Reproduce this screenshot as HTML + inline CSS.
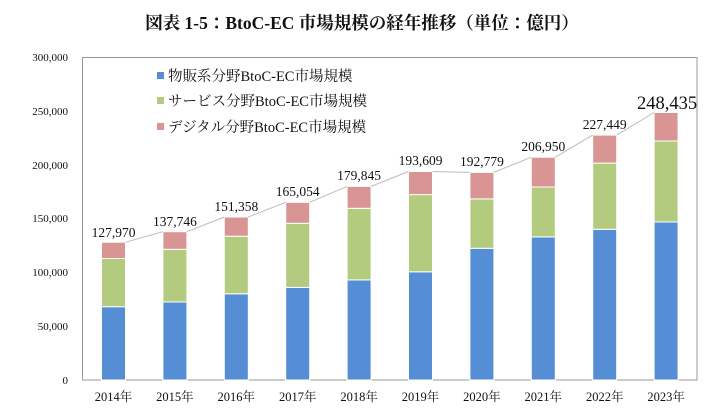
<!DOCTYPE html>
<html><head><meta charset="utf-8"><style>
html,body{margin:0;padding:0;background:#fff;}
svg{display:block;}
text{font-family:"Liberation Serif","Noto Serif CJK JP",serif;fill:#111;}
</style></head><body>
<svg width="725" height="416" viewBox="0 0 725 416" xmlns="http://www.w3.org/2000/svg">
<text x="362" y="29" text-anchor="middle" font-size="17.5" font-weight="bold">図表 1-5：BtoC-EC 市場規模の経年推移（単位：億円）</text>
<rect x="82.5" y="57.5" width="614.5" height="322.5" fill="none" stroke="#999" stroke-width="1"/>
<g font-size="11" text-anchor="end">
<text x="68" y="61">300,000</text>
<text x="68" y="115">250,000</text>
<text x="68" y="169">200,000</text>
<text x="68" y="222">150,000</text>
<text x="68" y="276">100,000</text>
<text x="68" y="330">50,000</text>
<text x="68" y="384">0</text>
</g>
<g stroke="#fff" stroke-width="1">
<g fill="#558ed5">
<rect x="101.5" y="306.7" width="24" height="73.3"/>
<rect x="162.9" y="302.0" width="24" height="78"/>
<rect x="224.3" y="293.8" width="24" height="86.2"/>
<rect x="285.7" y="287.4" width="24" height="92.6"/>
<rect x="347.1" y="279.9" width="24" height="100.1"/>
<rect x="408.5" y="271.8" width="24" height="108.2"/>
<rect x="469.9" y="248.3" width="24" height="131.7"/>
<rect x="531.3" y="236.9" width="24" height="143.1"/>
<rect x="592.7" y="229.3" width="24" height="150.7"/>
<rect x="654.1" y="222.0" width="24" height="158"/>
</g>
<g fill="#b3cb7f">
<rect x="101.5" y="258.5" width="24" height="48.2"/>
<rect x="162.9" y="249.3" width="24" height="52.7"/>
<rect x="224.3" y="236.2" width="24" height="57.6"/>
<rect x="285.7" y="223.3" width="24" height="64.1"/>
<rect x="347.1" y="208.3" width="24" height="71.6"/>
<rect x="408.5" y="194.6" width="24" height="77.2"/>
<rect x="469.9" y="198.9" width="24" height="49.4"/>
<rect x="531.3" y="187.0" width="24" height="49.9"/>
<rect x="592.7" y="163.1" width="24" height="66.2"/>
<rect x="654.1" y="141.0" width="24" height="81"/>
</g>
<g fill="#d99594">
<rect x="101.5" y="242.2" width="24" height="16.3"/>
<rect x="162.9" y="231.7" width="24" height="17.6"/>
<rect x="224.3" y="217.0" width="24" height="19.2"/>
<rect x="285.7" y="202.3" width="24" height="21"/>
<rect x="347.1" y="186.4" width="24" height="21.9"/>
<rect x="408.5" y="171.5" width="24" height="23.1"/>
<rect x="469.9" y="172.4" width="24" height="26.5"/>
<rect x="531.3" y="157.2" width="24" height="29.8"/>
<rect x="592.7" y="135.1" width="24" height="28"/>
<rect x="654.1" y="112.5" width="24" height="28.5"/>
</g>
</g>
<g stroke="#bbb" stroke-width="1" fill="none">
<line x1="125.5" y1="242.2" x2="162.9" y2="231.7"/>
<line x1="186.9" y1="231.7" x2="224.3" y2="217.0"/>
<line x1="248.3" y1="217.0" x2="285.7" y2="202.3"/>
<line x1="309.7" y1="202.3" x2="347.1" y2="186.4"/>
<line x1="371.1" y1="186.4" x2="408.5" y2="171.5"/>
<line x1="432.5" y1="171.5" x2="469.9" y2="172.4"/>
<line x1="493.9" y1="172.4" x2="531.3" y2="157.2"/>
<line x1="555.3" y1="157.2" x2="592.7" y2="135.1"/>
<line x1="616.7" y1="135.1" x2="654.1" y2="112.5"/>
</g>
<g font-size="13.5" text-anchor="middle">
<text x="113.5" y="237">127,970</text>
<text x="174.9" y="226">137,746</text>
<text x="236.3" y="211">151,358</text>
<text x="297.7" y="196">165,054</text>
<text x="359.1" y="180">179,845</text>
<text x="420.5" y="165">193,609</text>
<text x="481.9" y="166">192,779</text>
<text x="543.3" y="151">206,950</text>
<text x="604.7" y="129">227,449</text>
<text x="667" y="109" font-size="18.5">248,435</text>
</g>
<g font-size="12.5" text-anchor="middle">
<text x="113.5" y="401">2014年</text>
<text x="174.9" y="401">2015年</text>
<text x="236.3" y="401">2016年</text>
<text x="297.7" y="401">2017年</text>
<text x="359.1" y="401">2018年</text>
<text x="420.5" y="401">2019年</text>
<text x="481.9" y="401">2020年</text>
<text x="543.3" y="401">2021年</text>
<text x="604.7" y="401">2022年</text>
<text x="666.1" y="401">2023年</text>
</g>
<rect x="157" y="72" width="7" height="7" fill="#558ed5"/>
<rect x="157" y="97" width="7" height="7" fill="#b3cb7f"/>
<rect x="157" y="123" width="7" height="7" fill="#d99594"/>
<g font-size="14.5">
<text x="168" y="81">物販系分野BtoC-EC市場規模</text>
<text x="168" y="106">サービス分野BtoC-EC市場規模</text>
<text x="168" y="132">デジタル分野BtoC-EC市場規模</text>
</g>
</svg>
</body></html>
